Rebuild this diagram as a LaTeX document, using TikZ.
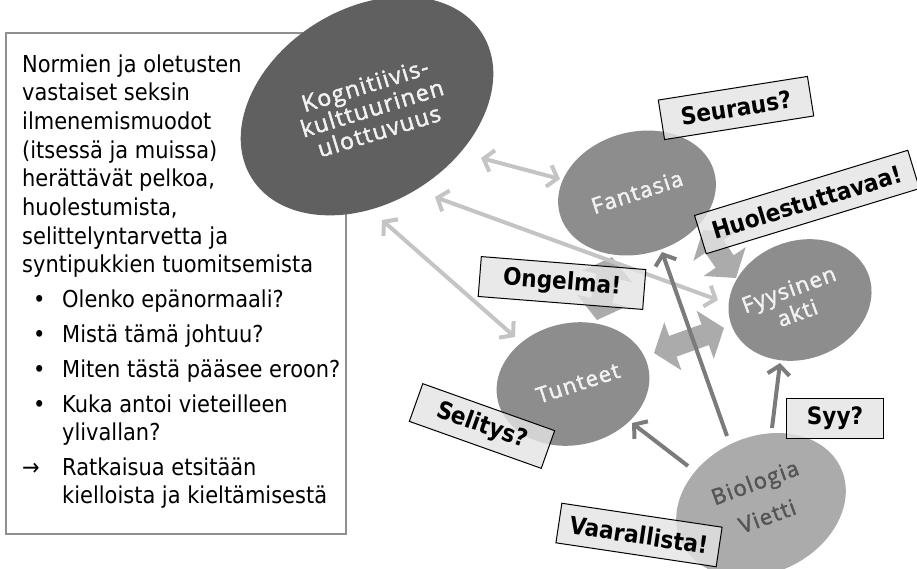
\documentclass[tikz,border=0pt]{standalone}
\usepackage{fontspec}
\setmainfont{DejaVuSansCondensed}[Extension=.ttf,BoldFont=DejaVuSansCondensed-Bold]
\newfontfamily\elfont{Open Sans}[LetterSpace=6,FakeBold=2]
\usetikzlibrary{shapes.geometric,arrows.meta}
\definecolor{kogc}{HTML}{606060}
\definecolor{midc}{HTML}{8D8D8D}
\definecolor{bioc}{HTML}{ABABAB}
\definecolor{biotxt}{HTML}{555555}
\definecolor{eltxt}{HTML}{F2F2F2}
\definecolor{lightc}{HTML}{C4C4C4}
\definecolor{darkc}{HTML}{7B7B7B}
\definecolor{blockc}{HTML}{ABABAB}
\definecolor{labc}{HTML}{E4E4E4}
\definecolor{panelc}{HTML}{8F8F8F}
\begin{document}
\begin{tikzpicture}[x=1pt,y=-1pt,
  blob/.style={ellipse,inner sep=0pt,outer sep=0pt,draw=none},
  eltext/.style={text=eltxt,align=center,inner sep=0pt,font=\elfont\fontsize{22}{25}\selectfont},
  lightarr/.style={draw=lightc,line width=4pt,{Straight Barb[length=9pt,width=22pt]}-{Straight Barb[length=9pt,width=22pt]}},
  darkarr/.style={draw=darkc,line width=4pt,-{Straight Barb[length=9pt,width=22pt]}},
  blockarr/.style={draw=blockc,line width=22pt,{Triangle[length=20pt,width=50pt]}-{Triangle[length=20pt,width=50pt]}},
  lab/.style={draw=black,line width=1pt,fill=labc,fill opacity=0.8,text opacity=1,inner sep=0pt,minimum height=40pt,font=\bfseries\fontsize{24}{28}\selectfont},
  ptxt/.style={anchor=base west,inner sep=0pt,font=\fontsize{23.3}{28}\selectfont}
]
\useasboundingbox (0,0) rectangle (917,568);
\fill[white] (0,0) rectangle (917,568);

% left panel
\node[draw=panelc,line width=2pt,minimum width=340pt,minimum height=501pt,anchor=north west,inner sep=0pt,outer sep=0pt] (panel) at (6,33) {};
\node[ptxt] (p1) at (22,72) {Normien ja oletusten};
\node[ptxt] (p2) at (22,100.7) {vastaiset seksin};
\node[ptxt] (p3) at (22,129.4) {ilmenemismuodot};
\node[ptxt] (p4) at (22,158.1) {(itsessä ja muissa)};
\node[ptxt] (p5) at (22,186.8) {herättävät pelkoa,};
\node[ptxt] (p6) at (22,215.5) {huolestumista,};
\node[ptxt] (p7) at (22,244.2) {selittelyntarvetta ja};
\node[ptxt] (p8) at (22,272.9) {syntipukkien tuomitsemista};
\node[ptxt] (d1) at (33,307) {•};
\node[ptxt] (b1) at (62,307) {Olenko epänormaali?};
\node[ptxt] (d2) at (33,342) {•};
\node[ptxt] (b2) at (62,342) {Mistä tämä johtuu?};
\node[ptxt] (d3) at (33,377) {•};
\node[ptxt] (b3) at (62,377) {Miten tästä pääsee eroon?};
\node[ptxt] (d4) at (33,412) {•};
\node[ptxt] (b4) at (62,412) {Kuka antoi vieteilleen};
\node[ptxt] (b5) at (62,440) {ylivallan?};
\node[ptxt] (d5) at (22,475) {→};
\node[ptxt] (b6) at (62,475) {Ratkaisua etsitään};
\node[ptxt] (b7) at (62,503) {kielloista ja kieltämisestä};

% ellipses
\node[blob,fill=kogc,minimum width=272pt,minimum height=194pt,rotate=32] (kog) at (367,106) {};
\node[eltext,rotate=17,font=\elfont\fontsize{23}{24}\selectfont] (kogt) at (372,108) {Kognitiivis-\\kulttuurinen\\ulottuvuus};
\node[blob,fill=midc,minimum width=160pt,minimum height=122pt,rotate=15] (fan) at (637,193) {};
\node[eltext,rotate=18] (fant) at (637,192) {Fantasia};
\node[blob,fill=midc,minimum width=146pt,minimum height=118pt,rotate=20] (fyy) at (800,300) {};
\node[eltext,rotate=20] (fyyt) at (793,301) {Fyysinen\\akti};
\node[blob,fill=midc,minimum width=154pt,minimum height=122pt,rotate=12] (tun) at (573,384) {};
\node[eltext,rotate=18] (tunt) at (578,383) {Tunteet};
\node[blob,fill=bioc,minimum width=176pt,minimum height=136pt,rotate=25] (bio) at (761,505) {};
\node[eltext,text=biotxt,rotate=20,font=\elfont\fontsize{22}{36}\selectfont] (biot) at (761,499) {Biologia\\Vietti};

% endpoints
\coordinate (kf1) at (481,158); \coordinate (kf2) at (560,179);
\coordinate (ky1) at (435,197); \coordinate (ky2) at (718,300);
\coordinate (kt1) at (382,220); \coordinate (kt2) at (515,337);
\coordinate (bf1) at (727,436); \coordinate (bf2) at (662,252);
\coordinate (bt1) at (688,466); \coordinate (bt2) at (632,423);
\coordinate (by1) at (772,428); \coordinate (by2) at (780,363);
\coordinate (ft1) at (612,257); \coordinate (ft2) at (597,320);
\coordinate (fy1) at (703,230); \coordinate (fy2) at (736,278);
\coordinate (ty1) at (654,353); \coordinate (ty2) at (724,328);

% block arrows
\draw[blockarr] (ft1) -- (ft2);
\draw[blockarr] (fy1) -- (fy2);
\draw[blockarr] (ty1) -- (ty2);

% light arrows
\draw[lightarr] (kf1) -- (kf2);
\draw[lightarr] (ky1) -- (ky2);
\draw[lightarr] (kt1) -- (kt2);

% dark arrows
\draw[darkarr] (bf1) -- (bf2);
\draw[darkarr] (bt1) -- (bt2);
\draw[darkarr] (by1) -- (by2);

% labels
\node[lab,minimum width=151pt,rotate=9] (seu) at (736,108) {Seuraus?};
\node[lab,minimum width=223pt,rotate=17] (huo) at (807,202) {Huolestuttavaa!};
\node[lab,minimum width=165pt,rotate=-4.5] (ong) at (562,283) {Ongelma!};
\node[lab,minimum width=140pt,rotate=-19.6] (sel) at (482,426) {Selitys?};
\node[lab,minimum width=162pt,rotate=-8.5] (vaa) at (639,535) {Vaarallista!};
\node[lab,minimum width=97pt] (syy) at (835,418) {Syy?};
\end{tikzpicture}
\end{document}
